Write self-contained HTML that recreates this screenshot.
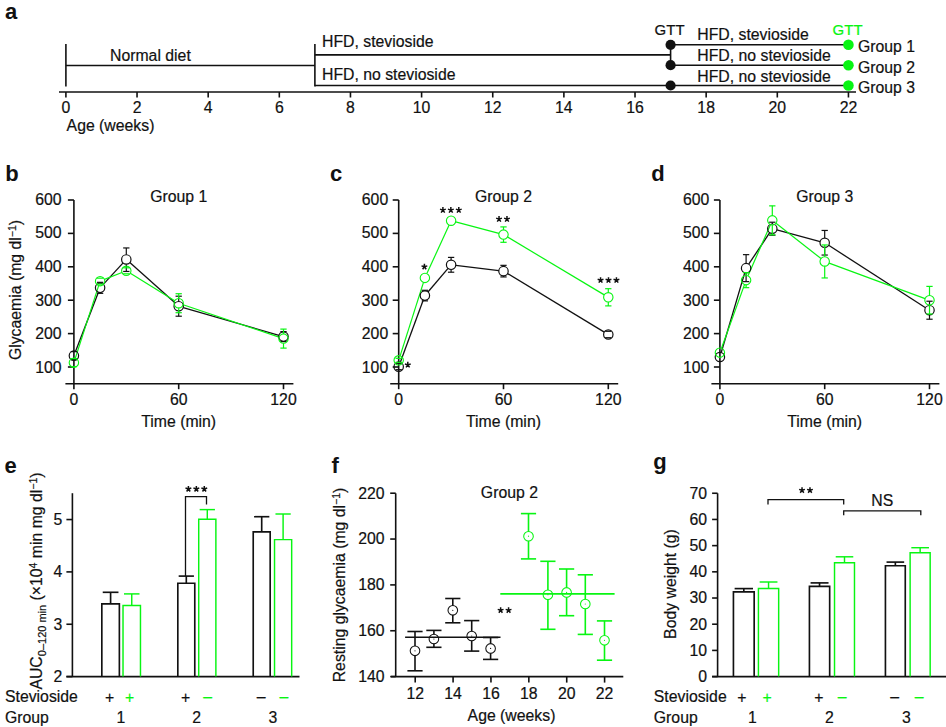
<!DOCTYPE html>
<html><head><meta charset="utf-8"><style>
html,body{margin:0;padding:0;background:#fff;width:946px;height:727px;overflow:hidden}
svg{display:block;font-family:"Liberation Sans",sans-serif}
</style></head><body>
<svg width="946" height="727" viewBox="0 0 946 727">
<text x="5.00" y="18.90" text-anchor="start" fill="#111" font-size="22" font-weight="bold">a</text>
<line x1="59.00" y1="92.00" x2="856.00" y2="92.00" stroke="#111" stroke-width="1.6"/>
<line x1="65.90" y1="92.00" x2="65.90" y2="97.50" stroke="#111" stroke-width="1.6"/>
<text x="65.90" y="113.00" text-anchor="middle" fill="#111" font-size="15.8" stroke="#111" stroke-width="0.2">0</text>
<line x1="137.04" y1="92.00" x2="137.04" y2="97.50" stroke="#111" stroke-width="1.6"/>
<text x="137.04" y="113.00" text-anchor="middle" fill="#111" font-size="15.8" stroke="#111" stroke-width="0.2">2</text>
<line x1="208.18" y1="92.00" x2="208.18" y2="97.50" stroke="#111" stroke-width="1.6"/>
<text x="208.18" y="113.00" text-anchor="middle" fill="#111" font-size="15.8" stroke="#111" stroke-width="0.2">4</text>
<line x1="279.32" y1="92.00" x2="279.32" y2="97.50" stroke="#111" stroke-width="1.6"/>
<text x="279.32" y="113.00" text-anchor="middle" fill="#111" font-size="15.8" stroke="#111" stroke-width="0.2">6</text>
<line x1="350.46" y1="92.00" x2="350.46" y2="97.50" stroke="#111" stroke-width="1.6"/>
<text x="350.46" y="113.00" text-anchor="middle" fill="#111" font-size="15.8" stroke="#111" stroke-width="0.2">8</text>
<line x1="421.60" y1="92.00" x2="421.60" y2="97.50" stroke="#111" stroke-width="1.6"/>
<text x="421.60" y="113.00" text-anchor="middle" fill="#111" font-size="15.8" stroke="#111" stroke-width="0.2">10</text>
<line x1="492.74" y1="92.00" x2="492.74" y2="97.50" stroke="#111" stroke-width="1.6"/>
<text x="492.74" y="113.00" text-anchor="middle" fill="#111" font-size="15.8" stroke="#111" stroke-width="0.2">12</text>
<line x1="563.88" y1="92.00" x2="563.88" y2="97.50" stroke="#111" stroke-width="1.6"/>
<text x="563.88" y="113.00" text-anchor="middle" fill="#111" font-size="15.8" stroke="#111" stroke-width="0.2">14</text>
<line x1="635.02" y1="92.00" x2="635.02" y2="97.50" stroke="#111" stroke-width="1.6"/>
<text x="635.02" y="113.00" text-anchor="middle" fill="#111" font-size="15.8" stroke="#111" stroke-width="0.2">16</text>
<line x1="706.16" y1="92.00" x2="706.16" y2="97.50" stroke="#111" stroke-width="1.6"/>
<text x="706.16" y="113.00" text-anchor="middle" fill="#111" font-size="15.8" stroke="#111" stroke-width="0.2">18</text>
<line x1="777.30" y1="92.00" x2="777.30" y2="97.50" stroke="#111" stroke-width="1.6"/>
<text x="777.30" y="113.00" text-anchor="middle" fill="#111" font-size="15.8" stroke="#111" stroke-width="0.2">20</text>
<line x1="848.44" y1="92.00" x2="848.44" y2="97.50" stroke="#111" stroke-width="1.6"/>
<text x="848.44" y="113.00" text-anchor="middle" fill="#111" font-size="15.8" stroke="#111" stroke-width="0.2">22</text>
<text x="66.60" y="130.50" text-anchor="start" fill="#111" font-size="15.8" stroke="#111" stroke-width="0.2">Age (weeks)</text>
<line x1="65.90" y1="44.00" x2="65.90" y2="86.50" stroke="#111" stroke-width="1.6"/>
<line x1="65.90" y1="65.50" x2="314.89" y2="65.50" stroke="#111" stroke-width="1.6"/>
<text x="110.00" y="60.50" text-anchor="start" fill="#111" font-size="15.8" stroke="#111" stroke-width="0.2">Normal diet</text>
<line x1="314.89" y1="44.00" x2="314.89" y2="86.50" stroke="#111" stroke-width="1.6"/>
<line x1="314.89" y1="54.90" x2="670.59" y2="54.90" stroke="#111" stroke-width="1.6"/>
<line x1="314.89" y1="85.50" x2="848.44" y2="85.50" stroke="#111" stroke-width="1.6"/>
<text x="322.00" y="47.00" text-anchor="start" fill="#111" font-size="15.8" stroke="#111" stroke-width="0.2">HFD, stevioside</text>
<text x="322.00" y="80.00" text-anchor="start" fill="#111" font-size="15.8" stroke="#111" stroke-width="0.2">HFD, no stevioside</text>
<line x1="670.59" y1="44.80" x2="670.59" y2="65.20" stroke="#111" stroke-width="1.6"/>
<line x1="670.59" y1="44.80" x2="848.44" y2="44.80" stroke="#111" stroke-width="1.6"/>
<line x1="670.59" y1="65.20" x2="848.44" y2="65.20" stroke="#111" stroke-width="1.6"/>
<circle cx="670.59" cy="44.80" r="5.1" fill="#111"/>
<circle cx="848.44" cy="44.80" r="5.3" fill="#08f512"/>
<circle cx="670.59" cy="65.20" r="5.1" fill="#111"/>
<circle cx="848.44" cy="65.20" r="5.3" fill="#08f512"/>
<circle cx="670.59" cy="85.50" r="5.1" fill="#111"/>
<circle cx="848.44" cy="85.50" r="5.3" fill="#08f512"/>
<text x="669.60" y="34.90" text-anchor="middle" fill="#111" font-size="15" stroke="#111" stroke-width="0.2">GTT</text>
<text x="847.60" y="34.90" text-anchor="middle" fill="#08f512" font-size="15" stroke="#08f512" stroke-width="0.2">GTT</text>
<text x="697.30" y="39.50" text-anchor="start" fill="#111" font-size="15.8" stroke="#111" stroke-width="0.2">HFD, stevioside</text>
<text x="697.30" y="60.50" text-anchor="start" fill="#111" font-size="15.8" stroke="#111" stroke-width="0.2">HFD, no stevioside</text>
<text x="697.30" y="81.50" text-anchor="start" fill="#111" font-size="15.8" stroke="#111" stroke-width="0.2">HFD, no stevioside</text>
<text x="858.00" y="52.00" text-anchor="start" fill="#111" font-size="15.8" stroke="#111" stroke-width="0.2">Group 1</text>
<text x="858.00" y="72.50" text-anchor="start" fill="#111" font-size="15.8" stroke="#111" stroke-width="0.2">Group 2</text>
<text x="858.00" y="92.50" text-anchor="start" fill="#111" font-size="15.8" stroke="#111" stroke-width="0.2">Group 3</text>
<text x="5.30" y="181.40" text-anchor="start" fill="#111" font-size="22" font-weight="bold">b</text>
<line x1="73.90" y1="200.00" x2="73.90" y2="383.80" stroke="#111" stroke-width="1.6"/>
<line x1="67.90" y1="367.00" x2="73.90" y2="367.00" stroke="#111" stroke-width="1.6"/>
<text x="61.50" y="373.00" text-anchor="end" fill="#111" font-size="15.8" stroke="#111" stroke-width="0.2">100</text>
<line x1="67.90" y1="333.60" x2="73.90" y2="333.60" stroke="#111" stroke-width="1.6"/>
<text x="61.50" y="339.32" text-anchor="end" fill="#111" font-size="15.8" stroke="#111" stroke-width="0.2">200</text>
<line x1="67.90" y1="300.20" x2="73.90" y2="300.20" stroke="#111" stroke-width="1.6"/>
<text x="61.50" y="305.64" text-anchor="end" fill="#111" font-size="15.8" stroke="#111" stroke-width="0.2">300</text>
<line x1="67.90" y1="266.80" x2="73.90" y2="266.80" stroke="#111" stroke-width="1.6"/>
<text x="61.50" y="271.96" text-anchor="end" fill="#111" font-size="15.8" stroke="#111" stroke-width="0.2">400</text>
<line x1="67.90" y1="233.40" x2="73.90" y2="233.40" stroke="#111" stroke-width="1.6"/>
<text x="61.50" y="238.28" text-anchor="end" fill="#111" font-size="15.8" stroke="#111" stroke-width="0.2">500</text>
<line x1="67.90" y1="200.00" x2="73.90" y2="200.00" stroke="#111" stroke-width="1.6"/>
<text x="61.50" y="204.60" text-anchor="end" fill="#111" font-size="15.8" stroke="#111" stroke-width="0.2">600</text>
<line x1="65.40" y1="383.80" x2="293.40" y2="383.80" stroke="#111" stroke-width="1.6"/>
<line x1="73.90" y1="383.80" x2="73.90" y2="389.20" stroke="#111" stroke-width="1.6"/>
<text x="73.90" y="405.00" text-anchor="middle" fill="#111" font-size="15.8" stroke="#111" stroke-width="0.2">0</text>
<line x1="178.70" y1="383.80" x2="178.70" y2="389.20" stroke="#111" stroke-width="1.6"/>
<text x="178.70" y="405.00" text-anchor="middle" fill="#111" font-size="15.8" stroke="#111" stroke-width="0.2">60</text>
<line x1="283.50" y1="383.80" x2="283.50" y2="389.20" stroke="#111" stroke-width="1.6"/>
<text x="283.50" y="405.00" text-anchor="middle" fill="#111" font-size="15.8" stroke="#111" stroke-width="0.2">120</text>
<text x="178.70" y="427.00" text-anchor="middle" fill="#111" font-size="15.8" stroke="#111" stroke-width="0.2">Time (min)</text>
<text x="178.70" y="202.00" text-anchor="middle" fill="#111" font-size="15.8" stroke="#111" stroke-width="0.2">Group 1</text>
<line x1="75.59" y1="351.26" x2="98.41" y2="292.23" stroke="#111" stroke-width="1.3"/>
<line x1="103.29" y1="284.39" x2="123.11" y2="262.91" stroke="#111" stroke-width="1.3"/>
<line x1="129.81" y1="262.58" x2="175.19" y2="303.08" stroke="#111" stroke-width="1.3"/>
<line x1="183.21" y1="307.52" x2="278.99" y2="335.30" stroke="#111" stroke-width="1.3"/>
<line x1="75.34" y1="358.18" x2="98.66" y2="285.64" stroke="#08f512" stroke-width="1.2"/>
<line x1="104.47" y1="279.43" x2="121.93" y2="272.54" stroke="#08f512" stroke-width="1.2"/>
<line x1="130.30" y1="273.28" x2="174.70" y2="300.73" stroke="#08f512" stroke-width="1.2"/>
<line x1="183.15" y1="304.71" x2="279.05" y2="337.11" stroke="#08f512" stroke-width="1.2"/>
<line x1="70.75" y1="351.64" x2="77.05" y2="351.64" stroke="#111" stroke-width="1.2"/>
<line x1="70.75" y1="359.64" x2="77.05" y2="359.64" stroke="#111" stroke-width="1.2"/>
<circle cx="73.90" cy="355.64" r="4.7" fill="none" stroke="#111" stroke-width="1.2"/>
<line x1="100.10" y1="283.14" x2="100.10" y2="282.34" stroke="#111" stroke-width="1.2"/>
<line x1="96.95" y1="282.34" x2="103.25" y2="282.34" stroke="#111" stroke-width="1.2"/>
<line x1="100.10" y1="292.54" x2="100.10" y2="293.34" stroke="#111" stroke-width="1.2"/>
<line x1="96.95" y1="293.34" x2="103.25" y2="293.34" stroke="#111" stroke-width="1.2"/>
<circle cx="100.10" cy="287.84" r="4.7" fill="none" stroke="#111" stroke-width="1.2"/>
<line x1="126.30" y1="254.75" x2="126.30" y2="247.95" stroke="#111" stroke-width="1.2"/>
<line x1="123.15" y1="247.95" x2="129.45" y2="247.95" stroke="#111" stroke-width="1.2"/>
<line x1="126.30" y1="264.15" x2="126.30" y2="271.45" stroke="#111" stroke-width="1.2"/>
<line x1="123.15" y1="271.45" x2="129.45" y2="271.45" stroke="#111" stroke-width="1.2"/>
<circle cx="126.30" cy="259.45" r="4.7" fill="none" stroke="#111" stroke-width="1.2"/>
<line x1="178.70" y1="301.51" x2="178.70" y2="296.21" stroke="#111" stroke-width="1.2"/>
<line x1="175.55" y1="296.21" x2="181.85" y2="296.21" stroke="#111" stroke-width="1.2"/>
<line x1="178.70" y1="310.91" x2="178.70" y2="316.21" stroke="#111" stroke-width="1.2"/>
<line x1="175.55" y1="316.21" x2="181.85" y2="316.21" stroke="#111" stroke-width="1.2"/>
<circle cx="178.70" cy="306.21" r="4.7" fill="none" stroke="#111" stroke-width="1.2"/>
<line x1="283.50" y1="331.91" x2="283.50" y2="331.61" stroke="#111" stroke-width="1.2"/>
<line x1="280.35" y1="331.61" x2="286.65" y2="331.61" stroke="#111" stroke-width="1.2"/>
<line x1="283.50" y1="341.31" x2="283.50" y2="341.61" stroke="#111" stroke-width="1.2"/>
<line x1="280.35" y1="341.61" x2="286.65" y2="341.61" stroke="#111" stroke-width="1.2"/>
<circle cx="283.50" cy="336.61" r="4.7" fill="none" stroke="#111" stroke-width="1.2"/>
<line x1="70.75" y1="358.66" x2="77.05" y2="358.66" stroke="#08f512" stroke-width="1.2"/>
<line x1="70.75" y1="366.66" x2="77.05" y2="366.66" stroke="#08f512" stroke-width="1.2"/>
<circle cx="73.90" cy="362.66" r="4.7" fill="none" stroke="#08f512" stroke-width="1.1"/>
<line x1="96.95" y1="278.16" x2="103.25" y2="278.16" stroke="#08f512" stroke-width="1.2"/>
<line x1="96.95" y1="284.16" x2="103.25" y2="284.16" stroke="#08f512" stroke-width="1.2"/>
<circle cx="100.10" cy="281.16" r="4.7" fill="none" stroke="#08f512" stroke-width="1.1"/>
<line x1="123.15" y1="267.81" x2="129.45" y2="267.81" stroke="#08f512" stroke-width="1.2"/>
<line x1="123.15" y1="273.81" x2="129.45" y2="273.81" stroke="#08f512" stroke-width="1.2"/>
<circle cx="126.30" cy="270.81" r="4.7" fill="none" stroke="#08f512" stroke-width="1.1"/>
<line x1="178.70" y1="298.51" x2="178.70" y2="293.71" stroke="#08f512" stroke-width="1.2"/>
<line x1="175.55" y1="293.71" x2="181.85" y2="293.71" stroke="#08f512" stroke-width="1.2"/>
<line x1="178.70" y1="307.91" x2="178.70" y2="312.71" stroke="#08f512" stroke-width="1.2"/>
<line x1="175.55" y1="312.71" x2="181.85" y2="312.71" stroke="#08f512" stroke-width="1.2"/>
<circle cx="178.70" cy="303.21" r="4.7" fill="none" stroke="#08f512" stroke-width="1.1"/>
<line x1="283.50" y1="333.91" x2="283.50" y2="329.11" stroke="#08f512" stroke-width="1.2"/>
<line x1="280.35" y1="329.11" x2="286.65" y2="329.11" stroke="#08f512" stroke-width="1.2"/>
<line x1="283.50" y1="343.31" x2="283.50" y2="348.11" stroke="#08f512" stroke-width="1.2"/>
<line x1="280.35" y1="348.11" x2="286.65" y2="348.11" stroke="#08f512" stroke-width="1.2"/>
<circle cx="283.50" cy="338.61" r="4.7" fill="none" stroke="#08f512" stroke-width="1.1"/>
<text x="330.10" y="181.40" text-anchor="start" fill="#111" font-size="22" font-weight="bold">c</text>
<line x1="398.70" y1="200.00" x2="398.70" y2="383.80" stroke="#111" stroke-width="1.6"/>
<line x1="392.70" y1="367.00" x2="398.70" y2="367.00" stroke="#111" stroke-width="1.6"/>
<text x="388.20" y="373.00" text-anchor="end" fill="#111" font-size="15.8" stroke="#111" stroke-width="0.2">100</text>
<line x1="392.70" y1="333.60" x2="398.70" y2="333.60" stroke="#111" stroke-width="1.6"/>
<text x="388.20" y="339.32" text-anchor="end" fill="#111" font-size="15.8" stroke="#111" stroke-width="0.2">200</text>
<line x1="392.70" y1="300.20" x2="398.70" y2="300.20" stroke="#111" stroke-width="1.6"/>
<text x="388.20" y="305.64" text-anchor="end" fill="#111" font-size="15.8" stroke="#111" stroke-width="0.2">300</text>
<line x1="392.70" y1="266.80" x2="398.70" y2="266.80" stroke="#111" stroke-width="1.6"/>
<text x="388.20" y="271.96" text-anchor="end" fill="#111" font-size="15.8" stroke="#111" stroke-width="0.2">400</text>
<line x1="392.70" y1="233.40" x2="398.70" y2="233.40" stroke="#111" stroke-width="1.6"/>
<text x="388.20" y="238.28" text-anchor="end" fill="#111" font-size="15.8" stroke="#111" stroke-width="0.2">500</text>
<line x1="392.70" y1="200.00" x2="398.70" y2="200.00" stroke="#111" stroke-width="1.6"/>
<text x="388.20" y="204.60" text-anchor="end" fill="#111" font-size="15.8" stroke="#111" stroke-width="0.2">600</text>
<line x1="390.20" y1="383.80" x2="618.20" y2="383.80" stroke="#111" stroke-width="1.6"/>
<line x1="398.70" y1="383.80" x2="398.70" y2="389.20" stroke="#111" stroke-width="1.6"/>
<text x="398.70" y="405.00" text-anchor="middle" fill="#111" font-size="15.8" stroke="#111" stroke-width="0.2">0</text>
<line x1="503.50" y1="383.80" x2="503.50" y2="389.20" stroke="#111" stroke-width="1.6"/>
<text x="503.50" y="405.00" text-anchor="middle" fill="#111" font-size="15.8" stroke="#111" stroke-width="0.2">60</text>
<line x1="608.30" y1="383.80" x2="608.30" y2="389.20" stroke="#111" stroke-width="1.6"/>
<text x="608.30" y="405.00" text-anchor="middle" fill="#111" font-size="15.8" stroke="#111" stroke-width="0.2">120</text>
<text x="503.50" y="427.00" text-anchor="middle" fill="#111" font-size="15.8" stroke="#111" stroke-width="0.2">Time (min)</text>
<text x="503.50" y="202.00" text-anchor="middle" fill="#111" font-size="15.8" stroke="#111" stroke-width="0.2">Group 2</text>
<line x1="400.33" y1="362.26" x2="423.27" y2="300.00" stroke="#111" stroke-width="1.3"/>
<line x1="427.95" y1="292.01" x2="448.05" y2="268.38" stroke="#111" stroke-width="1.3"/>
<line x1="455.77" y1="265.36" x2="498.83" y2="270.58" stroke="#111" stroke-width="1.3"/>
<line x1="507.52" y1="273.57" x2="604.28" y2="332.07" stroke="#111" stroke-width="1.3"/>
<line x1="400.12" y1="355.84" x2="423.48" y2="282.37" stroke="#08f512" stroke-width="1.2"/>
<line x1="426.86" y1="273.62" x2="449.14" y2="224.98" stroke="#08f512" stroke-width="1.2"/>
<line x1="455.64" y1="221.91" x2="498.96" y2="233.40" stroke="#08f512" stroke-width="1.2"/>
<line x1="507.53" y1="237.02" x2="604.27" y2="294.88" stroke="#08f512" stroke-width="1.2"/>
<line x1="395.55" y1="363.67" x2="401.85" y2="363.67" stroke="#111" stroke-width="1.2"/>
<line x1="395.55" y1="369.67" x2="401.85" y2="369.67" stroke="#111" stroke-width="1.2"/>
<circle cx="398.70" cy="366.67" r="4.7" fill="none" stroke="#111" stroke-width="1.2"/>
<line x1="424.90" y1="290.89" x2="424.90" y2="290.29" stroke="#111" stroke-width="1.2"/>
<line x1="421.75" y1="290.29" x2="428.05" y2="290.29" stroke="#111" stroke-width="1.2"/>
<line x1="424.90" y1="300.29" x2="424.90" y2="300.89" stroke="#111" stroke-width="1.2"/>
<line x1="421.75" y1="300.89" x2="428.05" y2="300.89" stroke="#111" stroke-width="1.2"/>
<circle cx="424.90" cy="295.59" r="4.7" fill="none" stroke="#111" stroke-width="1.2"/>
<line x1="451.10" y1="260.10" x2="451.10" y2="257.40" stroke="#111" stroke-width="1.2"/>
<line x1="447.95" y1="257.40" x2="454.25" y2="257.40" stroke="#111" stroke-width="1.2"/>
<line x1="451.10" y1="269.50" x2="451.10" y2="272.20" stroke="#111" stroke-width="1.2"/>
<line x1="447.95" y1="272.20" x2="454.25" y2="272.20" stroke="#111" stroke-width="1.2"/>
<circle cx="451.10" cy="264.80" r="4.7" fill="none" stroke="#111" stroke-width="1.2"/>
<line x1="503.50" y1="266.44" x2="503.50" y2="265.34" stroke="#111" stroke-width="1.2"/>
<line x1="500.35" y1="265.34" x2="506.65" y2="265.34" stroke="#111" stroke-width="1.2"/>
<line x1="503.50" y1="275.84" x2="503.50" y2="276.94" stroke="#111" stroke-width="1.2"/>
<line x1="500.35" y1="276.94" x2="506.65" y2="276.94" stroke="#111" stroke-width="1.2"/>
<circle cx="503.50" cy="271.14" r="4.7" fill="none" stroke="#111" stroke-width="1.2"/>
<line x1="605.15" y1="331.30" x2="611.45" y2="331.30" stroke="#111" stroke-width="1.2"/>
<line x1="605.15" y1="337.70" x2="611.45" y2="337.70" stroke="#111" stroke-width="1.2"/>
<circle cx="608.30" cy="334.50" r="4.7" fill="none" stroke="#111" stroke-width="1.2"/>
<line x1="395.55" y1="358.32" x2="401.85" y2="358.32" stroke="#08f512" stroke-width="1.2"/>
<line x1="395.55" y1="362.32" x2="401.85" y2="362.32" stroke="#08f512" stroke-width="1.2"/>
<circle cx="398.70" cy="360.32" r="4.7" fill="none" stroke="#08f512" stroke-width="1.1"/>
<circle cx="424.90" cy="277.89" r="4.7" fill="none" stroke="#08f512" stroke-width="1.1"/>
<circle cx="451.10" cy="220.71" r="4.7" fill="none" stroke="#08f512" stroke-width="1.1"/>
<line x1="503.50" y1="229.90" x2="503.50" y2="226.90" stroke="#08f512" stroke-width="1.2"/>
<line x1="500.35" y1="226.90" x2="506.65" y2="226.90" stroke="#08f512" stroke-width="1.2"/>
<line x1="503.50" y1="239.30" x2="503.50" y2="242.30" stroke="#08f512" stroke-width="1.2"/>
<line x1="500.35" y1="242.30" x2="506.65" y2="242.30" stroke="#08f512" stroke-width="1.2"/>
<circle cx="503.50" cy="234.60" r="4.7" fill="none" stroke="#08f512" stroke-width="1.1"/>
<line x1="608.30" y1="292.59" x2="608.30" y2="288.69" stroke="#08f512" stroke-width="1.2"/>
<line x1="605.15" y1="288.69" x2="611.45" y2="288.69" stroke="#08f512" stroke-width="1.2"/>
<line x1="608.30" y1="301.99" x2="608.30" y2="305.89" stroke="#08f512" stroke-width="1.2"/>
<line x1="605.15" y1="305.89" x2="611.45" y2="305.89" stroke="#08f512" stroke-width="1.2"/>
<circle cx="608.30" cy="297.29" r="4.7" fill="none" stroke="#08f512" stroke-width="1.1"/>
<text x="651.30" y="181.40" text-anchor="start" fill="#111" font-size="22" font-weight="bold">d</text>
<line x1="719.90" y1="200.00" x2="719.90" y2="383.80" stroke="#111" stroke-width="1.6"/>
<line x1="713.90" y1="367.00" x2="719.90" y2="367.00" stroke="#111" stroke-width="1.6"/>
<text x="709.40" y="373.00" text-anchor="end" fill="#111" font-size="15.8" stroke="#111" stroke-width="0.2">100</text>
<line x1="713.90" y1="333.60" x2="719.90" y2="333.60" stroke="#111" stroke-width="1.6"/>
<text x="709.40" y="339.32" text-anchor="end" fill="#111" font-size="15.8" stroke="#111" stroke-width="0.2">200</text>
<line x1="713.90" y1="300.20" x2="719.90" y2="300.20" stroke="#111" stroke-width="1.6"/>
<text x="709.40" y="305.64" text-anchor="end" fill="#111" font-size="15.8" stroke="#111" stroke-width="0.2">300</text>
<line x1="713.90" y1="266.80" x2="719.90" y2="266.80" stroke="#111" stroke-width="1.6"/>
<text x="709.40" y="271.96" text-anchor="end" fill="#111" font-size="15.8" stroke="#111" stroke-width="0.2">400</text>
<line x1="713.90" y1="233.40" x2="719.90" y2="233.40" stroke="#111" stroke-width="1.6"/>
<text x="709.40" y="238.28" text-anchor="end" fill="#111" font-size="15.8" stroke="#111" stroke-width="0.2">500</text>
<line x1="713.90" y1="200.00" x2="719.90" y2="200.00" stroke="#111" stroke-width="1.6"/>
<text x="709.40" y="204.60" text-anchor="end" fill="#111" font-size="15.8" stroke="#111" stroke-width="0.2">600</text>
<line x1="711.40" y1="383.80" x2="939.40" y2="383.80" stroke="#111" stroke-width="1.6"/>
<line x1="719.90" y1="383.80" x2="719.90" y2="389.20" stroke="#111" stroke-width="1.6"/>
<text x="719.90" y="405.00" text-anchor="middle" fill="#111" font-size="15.8" stroke="#111" stroke-width="0.2">0</text>
<line x1="824.70" y1="383.80" x2="824.70" y2="389.20" stroke="#111" stroke-width="1.6"/>
<text x="824.70" y="405.00" text-anchor="middle" fill="#111" font-size="15.8" stroke="#111" stroke-width="0.2">60</text>
<line x1="929.50" y1="383.80" x2="929.50" y2="389.20" stroke="#111" stroke-width="1.6"/>
<text x="929.50" y="405.00" text-anchor="middle" fill="#111" font-size="15.8" stroke="#111" stroke-width="0.2">120</text>
<text x="824.70" y="427.00" text-anchor="middle" fill="#111" font-size="15.8" stroke="#111" stroke-width="0.2">Time (min)</text>
<text x="824.70" y="202.00" text-anchor="middle" fill="#111" font-size="15.8" stroke="#111" stroke-width="0.2">Group 3</text>
<line x1="721.23" y1="352.47" x2="744.77" y2="272.64" stroke="#111" stroke-width="1.3"/>
<line x1="748.70" y1="264.22" x2="769.70" y2="232.64" stroke="#111" stroke-width="1.3"/>
<line x1="776.84" y1="229.94" x2="820.16" y2="241.54" stroke="#111" stroke-width="1.3"/>
<line x1="828.65" y1="245.30" x2="925.55" y2="307.68" stroke="#111" stroke-width="1.3"/>
<line x1="721.50" y1="348.22" x2="744.50" y2="284.58" stroke="#08f512" stroke-width="1.2"/>
<line x1="747.99" y1="275.86" x2="770.41" y2="224.68" stroke="#08f512" stroke-width="1.2"/>
<line x1="776.00" y1="223.27" x2="821.00" y2="258.56" stroke="#08f512" stroke-width="1.2"/>
<line x1="829.11" y1="263.09" x2="925.09" y2="298.57" stroke="#08f512" stroke-width="1.2"/>
<circle cx="719.90" cy="356.98" r="4.7" fill="none" stroke="#111" stroke-width="1.2"/>
<line x1="746.10" y1="263.44" x2="746.10" y2="254.64" stroke="#111" stroke-width="1.2"/>
<line x1="742.95" y1="254.64" x2="749.25" y2="254.64" stroke="#111" stroke-width="1.2"/>
<line x1="746.10" y1="272.84" x2="746.10" y2="281.64" stroke="#111" stroke-width="1.2"/>
<line x1="742.95" y1="281.64" x2="749.25" y2="281.64" stroke="#111" stroke-width="1.2"/>
<circle cx="746.10" cy="268.14" r="4.7" fill="none" stroke="#111" stroke-width="1.2"/>
<line x1="772.30" y1="224.02" x2="772.30" y2="222.22" stroke="#111" stroke-width="1.2"/>
<line x1="769.15" y1="222.22" x2="775.45" y2="222.22" stroke="#111" stroke-width="1.2"/>
<line x1="772.30" y1="233.42" x2="772.30" y2="235.22" stroke="#111" stroke-width="1.2"/>
<line x1="769.15" y1="235.22" x2="775.45" y2="235.22" stroke="#111" stroke-width="1.2"/>
<circle cx="772.30" cy="228.72" r="4.7" fill="none" stroke="#111" stroke-width="1.2"/>
<line x1="824.70" y1="238.05" x2="824.70" y2="230.45" stroke="#111" stroke-width="1.2"/>
<line x1="821.55" y1="230.45" x2="827.85" y2="230.45" stroke="#111" stroke-width="1.2"/>
<line x1="824.70" y1="247.45" x2="824.70" y2="255.05" stroke="#111" stroke-width="1.2"/>
<line x1="821.55" y1="255.05" x2="827.85" y2="255.05" stroke="#111" stroke-width="1.2"/>
<circle cx="824.70" cy="242.75" r="4.7" fill="none" stroke="#111" stroke-width="1.2"/>
<line x1="929.50" y1="305.52" x2="929.50" y2="301.22" stroke="#111" stroke-width="1.2"/>
<line x1="926.35" y1="301.22" x2="932.65" y2="301.22" stroke="#111" stroke-width="1.2"/>
<line x1="929.50" y1="314.92" x2="929.50" y2="319.22" stroke="#111" stroke-width="1.2"/>
<line x1="926.35" y1="319.22" x2="932.65" y2="319.22" stroke="#111" stroke-width="1.2"/>
<circle cx="929.50" cy="310.22" r="4.7" fill="none" stroke="#111" stroke-width="1.2"/>
<circle cx="719.90" cy="352.64" r="4.7" fill="none" stroke="#08f512" stroke-width="1.1"/>
<line x1="746.10" y1="275.46" x2="746.10" y2="272.66" stroke="#08f512" stroke-width="1.2"/>
<line x1="742.95" y1="272.66" x2="749.25" y2="272.66" stroke="#08f512" stroke-width="1.2"/>
<line x1="746.10" y1="284.86" x2="746.10" y2="287.66" stroke="#08f512" stroke-width="1.2"/>
<line x1="742.95" y1="287.66" x2="749.25" y2="287.66" stroke="#08f512" stroke-width="1.2"/>
<circle cx="746.10" cy="280.16" r="4.7" fill="none" stroke="#08f512" stroke-width="1.1"/>
<line x1="772.30" y1="215.67" x2="772.30" y2="205.87" stroke="#08f512" stroke-width="1.2"/>
<line x1="769.15" y1="205.87" x2="775.45" y2="205.87" stroke="#08f512" stroke-width="1.2"/>
<line x1="772.30" y1="225.07" x2="772.30" y2="234.87" stroke="#08f512" stroke-width="1.2"/>
<line x1="769.15" y1="234.87" x2="775.45" y2="234.87" stroke="#08f512" stroke-width="1.2"/>
<circle cx="772.30" cy="220.37" r="4.7" fill="none" stroke="#08f512" stroke-width="1.1"/>
<line x1="824.70" y1="256.76" x2="824.70" y2="244.96" stroke="#08f512" stroke-width="1.2"/>
<line x1="821.55" y1="244.96" x2="827.85" y2="244.96" stroke="#08f512" stroke-width="1.2"/>
<line x1="824.70" y1="266.16" x2="824.70" y2="277.96" stroke="#08f512" stroke-width="1.2"/>
<line x1="821.55" y1="277.96" x2="827.85" y2="277.96" stroke="#08f512" stroke-width="1.2"/>
<circle cx="824.70" cy="261.46" r="4.7" fill="none" stroke="#08f512" stroke-width="1.1"/>
<line x1="929.50" y1="295.50" x2="929.50" y2="286.40" stroke="#08f512" stroke-width="1.2"/>
<line x1="926.35" y1="286.40" x2="932.65" y2="286.40" stroke="#08f512" stroke-width="1.2"/>
<line x1="929.50" y1="304.90" x2="929.50" y2="314.00" stroke="#08f512" stroke-width="1.2"/>
<line x1="926.35" y1="314.00" x2="932.65" y2="314.00" stroke="#08f512" stroke-width="1.2"/>
<circle cx="929.50" cy="300.20" r="4.7" fill="none" stroke="#08f512" stroke-width="1.1"/>
<path d="M600.56,280.20L600.56,277.15M600.56,280.20L603.46,279.26M600.56,280.20L602.35,282.67M600.56,280.20L598.77,282.67M600.56,280.20L597.66,279.26" stroke="#111" stroke-width="1.5" fill="none"/>
<circle cx="600.56" cy="280.20" r="1.0" fill="#111"/>
<path d="M608.50,280.20L608.50,277.15M608.50,280.20L611.40,279.26M608.50,280.20L610.29,282.67M608.50,280.20L606.71,282.67M608.50,280.20L605.60,279.26" stroke="#111" stroke-width="1.5" fill="none"/>
<circle cx="608.50" cy="280.20" r="1.0" fill="#111"/>
<path d="M616.44,280.20L616.44,277.15M616.44,280.20L619.34,279.26M616.44,280.20L618.23,282.67M616.44,280.20L614.65,282.67M616.44,280.20L613.54,279.26" stroke="#111" stroke-width="1.5" fill="none"/>
<circle cx="616.44" cy="280.20" r="1.0" fill="#111"/>
<path d="M442.91,210.10L442.91,207.05M442.91,210.10L445.81,209.16M442.91,210.10L444.70,212.57M442.91,210.10L441.12,212.57M442.91,210.10L440.01,209.16" stroke="#111" stroke-width="1.5" fill="none"/>
<circle cx="442.91" cy="210.10" r="1.0" fill="#111"/>
<path d="M450.85,210.10L450.85,207.05M450.85,210.10L453.75,209.16M450.85,210.10L452.64,212.57M450.85,210.10L449.06,212.57M450.85,210.10L447.95,209.16" stroke="#111" stroke-width="1.5" fill="none"/>
<circle cx="450.85" cy="210.10" r="1.0" fill="#111"/>
<path d="M458.79,210.10L458.79,207.05M458.79,210.10L461.69,209.16M458.79,210.10L460.58,212.57M458.79,210.10L457.00,212.57M458.79,210.10L455.89,209.16" stroke="#111" stroke-width="1.5" fill="none"/>
<circle cx="458.79" cy="210.10" r="1.0" fill="#111"/>
<path d="M499.03,219.10L499.03,216.05M499.03,219.10L501.93,218.16M499.03,219.10L500.82,221.57M499.03,219.10L497.24,221.57M499.03,219.10L496.13,218.16" stroke="#111" stroke-width="1.5" fill="none"/>
<circle cx="499.03" cy="219.10" r="1.0" fill="#111"/>
<path d="M506.97,219.10L506.97,216.05M506.97,219.10L509.87,218.16M506.97,219.10L508.76,221.57M506.97,219.10L505.18,221.57M506.97,219.10L504.07,218.16" stroke="#111" stroke-width="1.5" fill="none"/>
<circle cx="506.97" cy="219.10" r="1.0" fill="#111"/>
<path d="M424.40,266.80L424.40,263.75M424.40,266.80L427.30,265.86M424.40,266.80L426.19,269.27M424.40,266.80L422.61,269.27M424.40,266.80L421.50,265.86" stroke="#111" stroke-width="1.5" fill="none"/>
<circle cx="424.40" cy="266.80" r="1.0" fill="#111"/>
<path d="M407.80,364.90L407.80,361.85M407.80,364.90L410.70,363.96M407.80,364.90L409.59,367.37M407.80,364.90L406.01,367.37M407.80,364.90L404.90,363.96" stroke="#111" stroke-width="1.5" fill="none"/>
<circle cx="407.80" cy="364.90" r="1.0" fill="#111"/>
<text transform="translate(20.80,290) rotate(-90)" text-anchor="middle" font-size="15.8" fill="#111" stroke="#111" stroke-width="0.2">Glycaemia (mg dl<tspan dy="-5" font-size="10.5">−1</tspan><tspan dy="5">)</tspan></text>
<text x="4.60" y="473.00" text-anchor="start" fill="#111" font-size="22" font-weight="bold">e</text>
<line x1="72.40" y1="493.20" x2="72.40" y2="676.60" stroke="#111" stroke-width="1.6"/>
<line x1="66.40" y1="676.60" x2="299.50" y2="676.60" stroke="#111" stroke-width="1.6"/>
<line x1="66.40" y1="676.60" x2="72.40" y2="676.60" stroke="#111" stroke-width="1.6"/>
<text x="62.30" y="681.90" text-anchor="end" fill="#111" font-size="15.8" stroke="#111" stroke-width="0.2">2</text>
<line x1="66.40" y1="624.25" x2="72.40" y2="624.25" stroke="#111" stroke-width="1.6"/>
<text x="62.30" y="629.55" text-anchor="end" fill="#111" font-size="15.8" stroke="#111" stroke-width="0.2">3</text>
<line x1="66.40" y1="571.90" x2="72.40" y2="571.90" stroke="#111" stroke-width="1.6"/>
<text x="62.30" y="577.20" text-anchor="end" fill="#111" font-size="15.8" stroke="#111" stroke-width="0.2">4</text>
<line x1="66.40" y1="519.55" x2="72.40" y2="519.55" stroke="#111" stroke-width="1.6"/>
<text x="62.30" y="524.85" text-anchor="end" fill="#111" font-size="15.8" stroke="#111" stroke-width="0.2">5</text>
<path d="M101.83,676.60 V603.83 H119.37 V676.60" fill="none" stroke="#111" stroke-width="1.65"/>
<line x1="110.60" y1="603.83" x2="110.60" y2="592.30" stroke="#111" stroke-width="1.65"/>
<line x1="102.73" y1="592.30" x2="118.47" y2="592.30" stroke="#111" stroke-width="1.65"/>
<path d="M123.02,676.60 V605.43 H140.47 V676.60" fill="none" stroke="#08f512" stroke-width="1.45"/>
<line x1="131.75" y1="605.43" x2="131.75" y2="593.90" stroke="#08f512" stroke-width="1.45"/>
<line x1="124.00" y1="593.90" x2="139.50" y2="593.90" stroke="#08f512" stroke-width="1.45"/>
<path d="M177.82,676.60 V583.23 H194.78 V676.60" fill="none" stroke="#111" stroke-width="1.65"/>
<line x1="186.30" y1="583.23" x2="186.30" y2="576.10" stroke="#111" stroke-width="1.65"/>
<line x1="178.67" y1="576.10" x2="193.93" y2="576.10" stroke="#111" stroke-width="1.65"/>
<path d="M198.72,676.60 V519.23 H215.88 V676.60" fill="none" stroke="#08f512" stroke-width="1.45"/>
<line x1="207.30" y1="519.23" x2="207.30" y2="509.60" stroke="#08f512" stroke-width="1.45"/>
<line x1="199.67" y1="509.60" x2="214.93" y2="509.60" stroke="#08f512" stroke-width="1.45"/>
<path d="M253.22,676.60 V531.93 H270.18 V676.60" fill="none" stroke="#111" stroke-width="1.65"/>
<line x1="261.70" y1="531.93" x2="261.70" y2="516.70" stroke="#111" stroke-width="1.65"/>
<line x1="254.07" y1="516.70" x2="269.33" y2="516.70" stroke="#111" stroke-width="1.65"/>
<path d="M274.53,676.60 V539.62 H291.68 V676.60" fill="none" stroke="#08f512" stroke-width="1.45"/>
<line x1="283.10" y1="539.62" x2="283.10" y2="514.00" stroke="#08f512" stroke-width="1.45"/>
<line x1="275.47" y1="514.00" x2="290.73" y2="514.00" stroke="#08f512" stroke-width="1.45"/>
<polyline points="185.50,576.10 185.50,496.60 206.50,496.60 206.50,504.50" fill="none" stroke="#111" stroke-width="1.3" stroke-linejoin="miter"/>
<path d="M188.41,489.00L188.41,485.95M188.41,489.00L191.31,488.06M188.41,489.00L190.20,491.47M188.41,489.00L186.62,491.47M188.41,489.00L185.51,488.06" stroke="#111" stroke-width="1.5" fill="none"/>
<circle cx="188.41" cy="489.00" r="1.0" fill="#111"/>
<path d="M196.35,489.00L196.35,485.95M196.35,489.00L199.25,488.06M196.35,489.00L198.14,491.47M196.35,489.00L194.56,491.47M196.35,489.00L193.45,488.06" stroke="#111" stroke-width="1.5" fill="none"/>
<circle cx="196.35" cy="489.00" r="1.0" fill="#111"/>
<path d="M204.29,489.00L204.29,485.95M204.29,489.00L207.19,488.06M204.29,489.00L206.08,491.47M204.29,489.00L202.50,491.47M204.29,489.00L201.39,488.06" stroke="#111" stroke-width="1.5" fill="none"/>
<circle cx="204.29" cy="489.00" r="1.0" fill="#111"/>
<text x="5.00" y="702.40" text-anchor="start" fill="#111" font-size="15.8" stroke="#111" stroke-width="0.2">Stevioside</text>
<text x="5.00" y="723.20" text-anchor="start" fill="#111" font-size="15.8" stroke="#111" stroke-width="0.2">Group</text>
<text x="109.60" y="703.30" text-anchor="middle" fill="#111" font-size="15.8" stroke="#111" stroke-width="0.2">+</text>
<text x="129.70" y="703.30" text-anchor="middle" fill="#08f512" font-size="15.8" stroke="#08f512" stroke-width="0.2">+</text>
<text x="120.90" y="723.20" text-anchor="middle" fill="#111" font-size="15.8" stroke="#111" stroke-width="0.2">1</text>
<text x="185.50" y="703.30" text-anchor="middle" fill="#111" font-size="15.8" stroke="#111" stroke-width="0.2">+</text>
<text x="207.60" y="702.40" text-anchor="middle" fill="#08f512" font-size="15.8" stroke="#08f512" stroke-width="0.2">–</text>
<text x="196.70" y="723.20" text-anchor="middle" fill="#111" font-size="15.8" stroke="#111" stroke-width="0.2">2</text>
<text x="261.20" y="702.40" text-anchor="middle" fill="#111" font-size="15.8" stroke="#111" stroke-width="0.2">–</text>
<text x="284.00" y="702.40" text-anchor="middle" fill="#08f512" font-size="15.8" stroke="#08f512" stroke-width="0.2">–</text>
<text x="272.80" y="723.20" text-anchor="middle" fill="#111" font-size="15.8" stroke="#111" stroke-width="0.2">3</text>
<text transform="translate(42,581) rotate(-90)" text-anchor="middle" font-size="15.8" fill="#111" stroke="#111" stroke-width="0.2">AUC<tspan dy="4" font-size="11">0–120 min</tspan><tspan dy="-4"> (×10</tspan><tspan dy="-5" font-size="10.5">4</tspan><tspan dy="5"> min mg dl</tspan><tspan dy="-5" font-size="10.5">−1</tspan><tspan dy="5">)</tspan></text>
<text x="331.50" y="473.00" text-anchor="start" fill="#111" font-size="22" font-weight="bold">f</text>
<line x1="395.70" y1="493.30" x2="395.70" y2="676.60" stroke="#111" stroke-width="1.6"/>
<line x1="391.00" y1="676.60" x2="623.30" y2="676.60" stroke="#111" stroke-width="1.6"/>
<line x1="390.20" y1="676.60" x2="395.70" y2="676.60" stroke="#111" stroke-width="1.6"/>
<text x="384.60" y="681.90" text-anchor="end" fill="#111" font-size="15.8" stroke="#111" stroke-width="0.2">140</text>
<line x1="390.20" y1="630.75" x2="395.70" y2="630.75" stroke="#111" stroke-width="1.6"/>
<text x="384.60" y="636.05" text-anchor="end" fill="#111" font-size="15.8" stroke="#111" stroke-width="0.2">160</text>
<line x1="390.20" y1="584.90" x2="395.70" y2="584.90" stroke="#111" stroke-width="1.6"/>
<text x="384.60" y="590.20" text-anchor="end" fill="#111" font-size="15.8" stroke="#111" stroke-width="0.2">180</text>
<line x1="390.20" y1="539.05" x2="395.70" y2="539.05" stroke="#111" stroke-width="1.6"/>
<text x="384.60" y="544.35" text-anchor="end" fill="#111" font-size="15.8" stroke="#111" stroke-width="0.2">200</text>
<line x1="390.20" y1="493.20" x2="395.70" y2="493.20" stroke="#111" stroke-width="1.6"/>
<text x="384.60" y="498.50" text-anchor="end" fill="#111" font-size="15.8" stroke="#111" stroke-width="0.2">220</text>
<line x1="415.20" y1="676.60" x2="415.20" y2="682.60" stroke="#111" stroke-width="1.6"/>
<text x="415.20" y="699.10" text-anchor="middle" fill="#111" font-size="15.8" stroke="#111" stroke-width="0.2">12</text>
<line x1="453.08" y1="676.60" x2="453.08" y2="682.60" stroke="#111" stroke-width="1.6"/>
<text x="453.08" y="699.10" text-anchor="middle" fill="#111" font-size="15.8" stroke="#111" stroke-width="0.2">14</text>
<line x1="490.96" y1="676.60" x2="490.96" y2="682.60" stroke="#111" stroke-width="1.6"/>
<text x="490.96" y="699.10" text-anchor="middle" fill="#111" font-size="15.8" stroke="#111" stroke-width="0.2">16</text>
<line x1="528.84" y1="676.60" x2="528.84" y2="682.60" stroke="#111" stroke-width="1.6"/>
<text x="528.84" y="699.10" text-anchor="middle" fill="#111" font-size="15.8" stroke="#111" stroke-width="0.2">18</text>
<line x1="566.72" y1="676.60" x2="566.72" y2="682.60" stroke="#111" stroke-width="1.6"/>
<text x="566.72" y="699.10" text-anchor="middle" fill="#111" font-size="15.8" stroke="#111" stroke-width="0.2">20</text>
<line x1="604.60" y1="676.60" x2="604.60" y2="682.60" stroke="#111" stroke-width="1.6"/>
<text x="604.60" y="699.10" text-anchor="middle" fill="#111" font-size="15.8" stroke="#111" stroke-width="0.2">22</text>
<text x="511.50" y="721.10" text-anchor="middle" fill="#111" font-size="15.8" stroke="#111" stroke-width="0.2">Age (weeks)</text>
<text x="509.40" y="498.40" text-anchor="middle" fill="#111" font-size="15.8" stroke="#111" stroke-width="0.2">Group 2</text>
<line x1="415.00" y1="631.50" x2="415.00" y2="670.80" stroke="#111" stroke-width="1.6"/>
<line x1="407.40" y1="631.50" x2="422.60" y2="631.50" stroke="#111" stroke-width="1.6"/>
<line x1="407.40" y1="670.80" x2="422.60" y2="670.80" stroke="#111" stroke-width="1.6"/>
<line x1="433.90" y1="630.40" x2="433.90" y2="647.30" stroke="#111" stroke-width="1.6"/>
<line x1="426.30" y1="630.40" x2="441.50" y2="630.40" stroke="#111" stroke-width="1.6"/>
<line x1="426.30" y1="647.30" x2="441.50" y2="647.30" stroke="#111" stroke-width="1.6"/>
<line x1="452.80" y1="598.50" x2="452.80" y2="622.80" stroke="#111" stroke-width="1.6"/>
<line x1="445.20" y1="598.50" x2="460.40" y2="598.50" stroke="#111" stroke-width="1.6"/>
<line x1="445.20" y1="622.80" x2="460.40" y2="622.80" stroke="#111" stroke-width="1.6"/>
<line x1="471.70" y1="620.60" x2="471.70" y2="651.10" stroke="#111" stroke-width="1.6"/>
<line x1="464.10" y1="620.60" x2="479.30" y2="620.60" stroke="#111" stroke-width="1.6"/>
<line x1="464.10" y1="651.10" x2="479.30" y2="651.10" stroke="#111" stroke-width="1.6"/>
<line x1="490.60" y1="637.50" x2="490.60" y2="659.40" stroke="#111" stroke-width="1.6"/>
<line x1="483.00" y1="637.50" x2="498.20" y2="637.50" stroke="#111" stroke-width="1.6"/>
<line x1="483.00" y1="659.40" x2="498.20" y2="659.40" stroke="#111" stroke-width="1.6"/>
<circle cx="415.00" cy="650.80" r="4.8" fill="#fff" stroke="#111" stroke-width="1.05"/>
<circle cx="415.00" cy="650.80" r="0.6" fill="#111"/>
<circle cx="433.90" cy="639.00" r="4.8" fill="#fff" stroke="#111" stroke-width="1.05"/>
<circle cx="433.90" cy="639.00" r="0.6" fill="#111"/>
<circle cx="452.80" cy="610.30" r="4.8" fill="#fff" stroke="#111" stroke-width="1.05"/>
<circle cx="452.80" cy="610.30" r="0.6" fill="#111"/>
<circle cx="471.70" cy="636.00" r="4.8" fill="#fff" stroke="#111" stroke-width="1.05"/>
<circle cx="471.70" cy="636.00" r="0.6" fill="#111"/>
<circle cx="490.60" cy="648.40" r="4.8" fill="#fff" stroke="#111" stroke-width="1.05"/>
<circle cx="490.60" cy="648.40" r="0.6" fill="#111"/>
<line x1="405.10" y1="637.20" x2="500.50" y2="637.20" stroke="#111" stroke-width="1.6"/>
<line x1="528.50" y1="513.60" x2="528.50" y2="558.90" stroke="#08f512" stroke-width="1.6"/>
<line x1="520.90" y1="513.60" x2="536.10" y2="513.60" stroke="#08f512" stroke-width="1.6"/>
<line x1="520.90" y1="558.90" x2="536.10" y2="558.90" stroke="#08f512" stroke-width="1.6"/>
<line x1="547.90" y1="561.30" x2="547.90" y2="629.30" stroke="#08f512" stroke-width="1.6"/>
<line x1="540.30" y1="561.30" x2="555.50" y2="561.30" stroke="#08f512" stroke-width="1.6"/>
<line x1="540.30" y1="629.30" x2="555.50" y2="629.30" stroke="#08f512" stroke-width="1.6"/>
<line x1="566.60" y1="569.00" x2="566.60" y2="615.70" stroke="#08f512" stroke-width="1.6"/>
<line x1="559.00" y1="569.00" x2="574.20" y2="569.00" stroke="#08f512" stroke-width="1.6"/>
<line x1="559.00" y1="615.70" x2="574.20" y2="615.70" stroke="#08f512" stroke-width="1.6"/>
<line x1="585.30" y1="574.80" x2="585.30" y2="634.40" stroke="#08f512" stroke-width="1.6"/>
<line x1="577.70" y1="574.80" x2="592.90" y2="574.80" stroke="#08f512" stroke-width="1.6"/>
<line x1="577.70" y1="634.40" x2="592.90" y2="634.40" stroke="#08f512" stroke-width="1.6"/>
<line x1="604.50" y1="620.90" x2="604.50" y2="660.20" stroke="#08f512" stroke-width="1.6"/>
<line x1="596.90" y1="620.90" x2="612.10" y2="620.90" stroke="#08f512" stroke-width="1.6"/>
<line x1="596.90" y1="660.20" x2="612.10" y2="660.20" stroke="#08f512" stroke-width="1.6"/>
<circle cx="528.50" cy="536.20" r="4.8" fill="#fff" stroke="#08f512" stroke-width="1.05"/>
<circle cx="528.50" cy="536.20" r="0.6" fill="#08f512"/>
<circle cx="547.90" cy="594.70" r="4.8" fill="#fff" stroke="#08f512" stroke-width="1.05"/>
<circle cx="547.90" cy="594.70" r="0.6" fill="#08f512"/>
<circle cx="566.60" cy="592.40" r="4.8" fill="#fff" stroke="#08f512" stroke-width="1.05"/>
<circle cx="566.60" cy="592.40" r="0.6" fill="#08f512"/>
<circle cx="585.30" cy="604.00" r="4.8" fill="#fff" stroke="#08f512" stroke-width="1.05"/>
<circle cx="585.30" cy="604.00" r="0.6" fill="#08f512"/>
<circle cx="604.50" cy="640.30" r="4.8" fill="#fff" stroke="#08f512" stroke-width="1.05"/>
<circle cx="604.50" cy="640.30" r="0.6" fill="#08f512"/>
<line x1="500.30" y1="593.90" x2="614.60" y2="593.90" stroke="#08f512" stroke-width="1.6"/>
<path d="M500.63,610.30L500.63,607.25M500.63,610.30L503.53,609.36M500.63,610.30L502.42,612.77M500.63,610.30L498.84,612.77M500.63,610.30L497.73,609.36" stroke="#111" stroke-width="1.5" fill="none"/>
<circle cx="500.63" cy="610.30" r="1.0" fill="#111"/>
<path d="M508.57,610.30L508.57,607.25M508.57,610.30L511.47,609.36M508.57,610.30L510.36,612.77M508.57,610.30L506.78,612.77M508.57,610.30L505.67,609.36" stroke="#111" stroke-width="1.5" fill="none"/>
<circle cx="508.57" cy="610.30" r="1.0" fill="#111"/>
<text transform="translate(345.4,585) rotate(-90)" text-anchor="middle" font-size="15.8" fill="#111" stroke="#111" stroke-width="0.2">Resting glycaemia (mg dl<tspan dy="-5" font-size="10.5">−1</tspan><tspan dy="5">)</tspan></text>
<text x="653.20" y="468.70" text-anchor="start" fill="#111" font-size="22" font-weight="bold">g</text>
<line x1="717.60" y1="493.30" x2="717.60" y2="676.60" stroke="#111" stroke-width="1.6"/>
<line x1="712.10" y1="676.60" x2="946.00" y2="676.60" stroke="#111" stroke-width="1.6"/>
<line x1="712.10" y1="676.60" x2="717.60" y2="676.60" stroke="#111" stroke-width="1.6"/>
<text x="707.00" y="681.90" text-anchor="end" fill="#111" font-size="15.8" stroke="#111" stroke-width="0.2">0</text>
<line x1="712.10" y1="650.41" x2="717.60" y2="650.41" stroke="#111" stroke-width="1.6"/>
<text x="707.00" y="655.71" text-anchor="end" fill="#111" font-size="15.8" stroke="#111" stroke-width="0.2">10</text>
<line x1="712.10" y1="624.21" x2="717.60" y2="624.21" stroke="#111" stroke-width="1.6"/>
<text x="707.00" y="629.51" text-anchor="end" fill="#111" font-size="15.8" stroke="#111" stroke-width="0.2">20</text>
<line x1="712.10" y1="598.02" x2="717.60" y2="598.02" stroke="#111" stroke-width="1.6"/>
<text x="707.00" y="603.32" text-anchor="end" fill="#111" font-size="15.8" stroke="#111" stroke-width="0.2">30</text>
<line x1="712.10" y1="571.83" x2="717.60" y2="571.83" stroke="#111" stroke-width="1.6"/>
<text x="707.00" y="577.13" text-anchor="end" fill="#111" font-size="15.8" stroke="#111" stroke-width="0.2">40</text>
<line x1="712.10" y1="545.63" x2="717.60" y2="545.63" stroke="#111" stroke-width="1.6"/>
<text x="707.00" y="550.93" text-anchor="end" fill="#111" font-size="15.8" stroke="#111" stroke-width="0.2">50</text>
<line x1="712.10" y1="519.44" x2="717.60" y2="519.44" stroke="#111" stroke-width="1.6"/>
<text x="707.00" y="524.74" text-anchor="end" fill="#111" font-size="15.8" stroke="#111" stroke-width="0.2">60</text>
<line x1="712.10" y1="493.25" x2="717.60" y2="493.25" stroke="#111" stroke-width="1.6"/>
<text x="707.00" y="498.55" text-anchor="end" fill="#111" font-size="15.8" stroke="#111" stroke-width="0.2">70</text>
<path d="M733.43,676.60 V591.83 H754.17 V676.60" fill="none" stroke="#111" stroke-width="1.65"/>
<line x1="743.80" y1="591.83" x2="743.80" y2="588.60" stroke="#111" stroke-width="1.65"/>
<line x1="734.62" y1="588.60" x2="752.98" y2="588.60" stroke="#111" stroke-width="1.65"/>
<path d="M758.43,676.60 V588.43 H778.67 V676.60" fill="none" stroke="#08f512" stroke-width="1.45"/>
<line x1="768.55" y1="588.43" x2="768.55" y2="582.00" stroke="#08f512" stroke-width="1.45"/>
<line x1="759.65" y1="582.00" x2="777.45" y2="582.00" stroke="#08f512" stroke-width="1.45"/>
<path d="M809.43,676.60 V586.33 H829.67 V676.60" fill="none" stroke="#111" stroke-width="1.65"/>
<line x1="819.55" y1="586.33" x2="819.55" y2="582.90" stroke="#111" stroke-width="1.65"/>
<line x1="810.57" y1="582.90" x2="828.53" y2="582.90" stroke="#111" stroke-width="1.65"/>
<path d="M834.52,676.60 V562.73 H854.48 V676.60" fill="none" stroke="#08f512" stroke-width="1.45"/>
<line x1="844.50" y1="562.73" x2="844.50" y2="556.80" stroke="#08f512" stroke-width="1.45"/>
<line x1="835.73" y1="556.80" x2="853.27" y2="556.80" stroke="#08f512" stroke-width="1.45"/>
<path d="M885.43,676.60 V565.73 H905.27 V676.60" fill="none" stroke="#111" stroke-width="1.65"/>
<line x1="895.35" y1="565.73" x2="895.35" y2="562.10" stroke="#111" stroke-width="1.65"/>
<line x1="886.53" y1="562.10" x2="904.17" y2="562.10" stroke="#111" stroke-width="1.65"/>
<path d="M910.12,676.60 V552.83 H930.17 V676.60" fill="none" stroke="#08f512" stroke-width="1.45"/>
<line x1="920.15" y1="552.83" x2="920.15" y2="547.70" stroke="#08f512" stroke-width="1.45"/>
<line x1="911.33" y1="547.70" x2="928.97" y2="547.70" stroke="#08f512" stroke-width="1.45"/>
<polyline points="768.00,504.50 768.00,499.70 843.70,499.70 843.70,504.50" fill="none" stroke="#111" stroke-width="1.3" stroke-linejoin="miter"/>
<polyline points="843.70,515.30 843.70,510.80 920.80,510.80 920.80,515.30" fill="none" stroke="#111" stroke-width="1.3" stroke-linejoin="miter"/>
<path d="M802.03,490.30L802.03,487.25M802.03,490.30L804.93,489.36M802.03,490.30L803.82,492.77M802.03,490.30L800.24,492.77M802.03,490.30L799.13,489.36" stroke="#111" stroke-width="1.5" fill="none"/>
<circle cx="802.03" cy="490.30" r="1.0" fill="#111"/>
<path d="M809.97,490.30L809.97,487.25M809.97,490.30L812.87,489.36M809.97,490.30L811.76,492.77M809.97,490.30L808.18,492.77M809.97,490.30L807.07,489.36" stroke="#111" stroke-width="1.5" fill="none"/>
<circle cx="809.97" cy="490.30" r="1.0" fill="#111"/>
<text x="882.20" y="506.40" text-anchor="middle" fill="#111" font-size="15.8" stroke="#111" stroke-width="0.2">NS</text>
<text x="653.80" y="702.40" text-anchor="start" fill="#111" font-size="15.8" stroke="#111" stroke-width="0.2">Stevioside</text>
<text x="653.80" y="723.20" text-anchor="start" fill="#111" font-size="15.8" stroke="#111" stroke-width="0.2">Group</text>
<text x="741.90" y="703.30" text-anchor="middle" fill="#111" font-size="15.8" stroke="#111" stroke-width="0.2">+</text>
<text x="767.10" y="703.30" text-anchor="middle" fill="#08f512" font-size="15.8" stroke="#08f512" stroke-width="0.2">+</text>
<text x="752.50" y="723.20" text-anchor="middle" fill="#111" font-size="15.8" stroke="#111" stroke-width="0.2">1</text>
<text x="818.80" y="703.30" text-anchor="middle" fill="#111" font-size="15.8" stroke="#111" stroke-width="0.2">+</text>
<text x="842.10" y="702.40" text-anchor="middle" fill="#08f512" font-size="15.8" stroke="#08f512" stroke-width="0.2">–</text>
<text x="829.50" y="723.20" text-anchor="middle" fill="#111" font-size="15.8" stroke="#111" stroke-width="0.2">2</text>
<text x="894.60" y="702.40" text-anchor="middle" fill="#111" font-size="15.8" stroke="#111" stroke-width="0.2">–</text>
<text x="919.10" y="702.40" text-anchor="middle" fill="#08f512" font-size="15.8" stroke="#08f512" stroke-width="0.2">–</text>
<text x="906.50" y="723.20" text-anchor="middle" fill="#111" font-size="15.8" stroke="#111" stroke-width="0.2">3</text>
<text transform="translate(676,584) rotate(-90)" text-anchor="middle" font-size="15.8" fill="#111" stroke="#111" stroke-width="0.2">Body weight (g)</text>
</svg></body></html>
